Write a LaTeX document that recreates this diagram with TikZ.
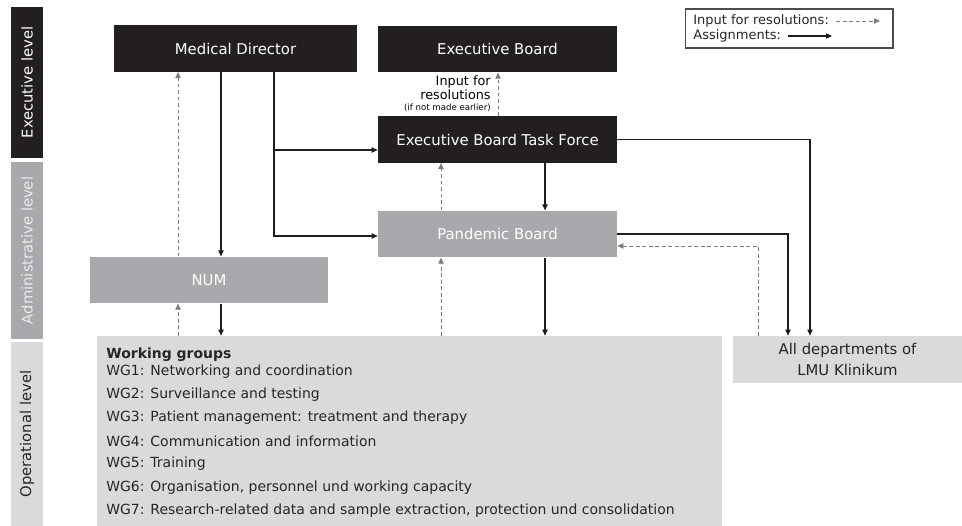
\documentclass[tikz,border=0pt]{standalone}
\usepackage{fontspec}
\setmainfont{DejaVu Sans}
\usetikzlibrary{positioning,arrows.meta}
\definecolor{execBlack}{RGB}{35,31,32}
\definecolor{adminGray}{RGB}{167,169,172}
\definecolor{operGray}{RGB}{217,218,219}
\definecolor{inputGray}{RGB}{125,125,125}
\definecolor{assignBlack}{RGB}{30,30,30}
\tikzstyle{chart} = [x = 0.02cm, y = -0.02cm]
\tikzstyle{boxFont} = [font=\fontsize{8.45}{11.9}\selectfont]
\tikzstyle{execBox} = [boxFont, fill=execBlack, text=white, inner sep=0pt, minimum width=4.78cm, minimum height=0.93cm]
\tikzstyle{adminBox} = [execBox, fill=adminGray, text=white]
\tikzstyle{operBox} = [boxFont, fill=operGray, text=black!85, inner sep=0pt, align=center]
\tikzstyle{levelBar} = [font=\fontsize{8.4}{10}\selectfont, rotate=90, inner sep=0pt, minimum height=0.64cm]
\tikzstyle{wgText} = [font=\fontsize{7.95}{9}\selectfont, text=black!85, anchor=west, inner sep=0pt]
\tikzstyle{legendText} = [font=\fontsize{7.4}{8.5}\selectfont, text=black!85, anchor=west, inner sep=0pt]
\tikzstyle{assignLine} = [color=assignBlack, line width=0.6pt, -{Triangle[length=3.4pt, width=3pt]}]
\tikzstyle{inputLine} = [color=inputGray, line width=0.55pt, dash pattern=on 2.2pt off 1.5pt, -{Triangle[length=3.4pt, width=3pt]}]

\begin{document}
\begin{tikzpicture}[chart]
  \useasboundingbox (0,0) rectangle (962,526);

  % level bars
  \node[levelBar, fill=execBlack, text=white, minimum width=3.02cm] (execLevel) at (27,82.5) {Executive level};
  \node[levelBar, fill=adminGray, text=white!92!black, minimum width=3.54cm] (adminLevel) at (27,250.5) {Administrative level};
  \node[levelBar, fill=operGray, text=black!85, minimum width=3.68cm] (operLevel) at (27,434) {Operational level};

  % boxes
  \node[execBox, minimum width=4.86cm] (medDir) at (235.5,48.5) {Medical Director};
  \node[execBox] (execBoard) at (497.5,49) {Executive Board};
  \node[execBox] (taskForce) at (497.5,139.5) {Executive Board Task Force};
  \node[adminBox] (pandBoard) at (497.5,234) {Pandemic Board};
  \node[adminBox, minimum width=4.76cm] (num) at (209,280) {NUM};
  \node[operBox, minimum width=12.5cm, minimum height=3.8cm] (groups) at (409.5,431) {};
  \node[operBox, minimum width=4.58cm, minimum height=0.94cm] (depts) at (847.5,359.5) {All departments of\\LMU Klinikum};

  % working groups
  \node[wgText, font=\fontsize{7.95}{9}\selectfont\bfseries] (wgTitle) at (106,354.5) {Working groups};
  \foreach \i/\wgName in {1/Networking and coordination, 2/Surveillance and testing,
      3/Patient management: treatment and therapy, 4/Communication and information,
      5/Training, 6/{Organisation, personnel und working capacity},
      7/{Research-related data and sample extraction, protection und consolidation}}
    \node[wgText] (wg\i) at (106,348+23.2*\i) {WG\i: \wgName};

  % note on the input arrow
  \node[font=\fontsize{7.3}{8.1}\selectfont, align=right, anchor=east, inner sep=0pt] (inputNote) at (491,88) {Input for\\resolutions};
  \node[font=\fontsize{4.9}{6}\selectfont, anchor=east, inner sep=0pt] (inputNoteSub) at (491,108) {(if not made earlier)};

  % legend
  \node[draw=black!70, line width=0.6pt, minimum width=4.16cm, minimum height=0.78cm, inner sep=0pt] (legend) at (789,28.5) {};
  \node[legendText] (legInput) at (693,21) {Input for resolutions:};
  \node[legendText] (legAssign) at (693,36) {Assignments:};
  \coordinate (legInputEnd) at (880,22);
  \coordinate (legAssignEnd) at (832,37);
  \draw[inputLine, shorten <=4pt] (legInput.east) -- (legInput.east -| legInputEnd);
  \draw[assignLine, shorten <=4pt] (legAssign.east) -- (legAssign.east -| legAssignEnd);

  % columns and rows of the connectors
  \coordinate (colNumUp) at (178,0);
  \coordinate (colNumDown) at (221,0);
  \coordinate (colDirector) at (274,0);
  \coordinate (colPandUp) at (441,0);
  \coordinate (colTaskUp) at (498,0);
  \coordinate (colPandDown) at (545,0);
  \coordinate (colDeptsUp) at (758,0);
  \coordinate (colPandDepts) at (788,0);
  \coordinate (colTaskDepts) at (810,0);
  \coordinate (rowTask) at (0,150);
  \coordinate (rowPand) at (0,236);
  \coordinate (rowPandOut) at (0,234);
  \coordinate (rowPandIn) at (0,246);

  % assignments
  \draw[assignLine] (medDir.south -| colNumDown) -- (num.north -| colNumDown);
  \draw[assignLine] (num.south -| colNumDown) -- (groups.north -| colNumDown);
  \draw[assignLine] (medDir.south -| colDirector) |- (taskForce.west |- rowTask);
  \draw[assignLine] (medDir.south -| colDirector) |- (pandBoard.west |- rowPand);
  \draw[assignLine] (taskForce.south -| colPandDown) -- (pandBoard.north -| colPandDown);
  \draw[assignLine] (pandBoard.south -| colPandDown) -- (groups.north -| colPandDown);
  \draw[assignLine] (taskForce.east) -| (depts.north -| colTaskDepts);
  \draw[assignLine] (pandBoard.east |- rowPandOut) -| (depts.north -| colPandDepts);

  % input for resolutions
  \draw[inputLine] (groups.north -| colNumUp) -- (num.south -| colNumUp);
  \draw[inputLine] (num.north -| colNumUp) -- (medDir.south -| colNumUp);
  \draw[inputLine] (taskForce.north -| colTaskUp) -- (execBoard.south -| colTaskUp);
  \draw[inputLine] (pandBoard.north -| colPandUp) -- (taskForce.south -| colPandUp);
  \draw[inputLine] (groups.north -| colPandUp) -- (pandBoard.south -| colPandUp);
  \draw[inputLine] (depts.north -| colDeptsUp) |- (pandBoard.east |- rowPandIn);
\end{tikzpicture}
\end{document}
